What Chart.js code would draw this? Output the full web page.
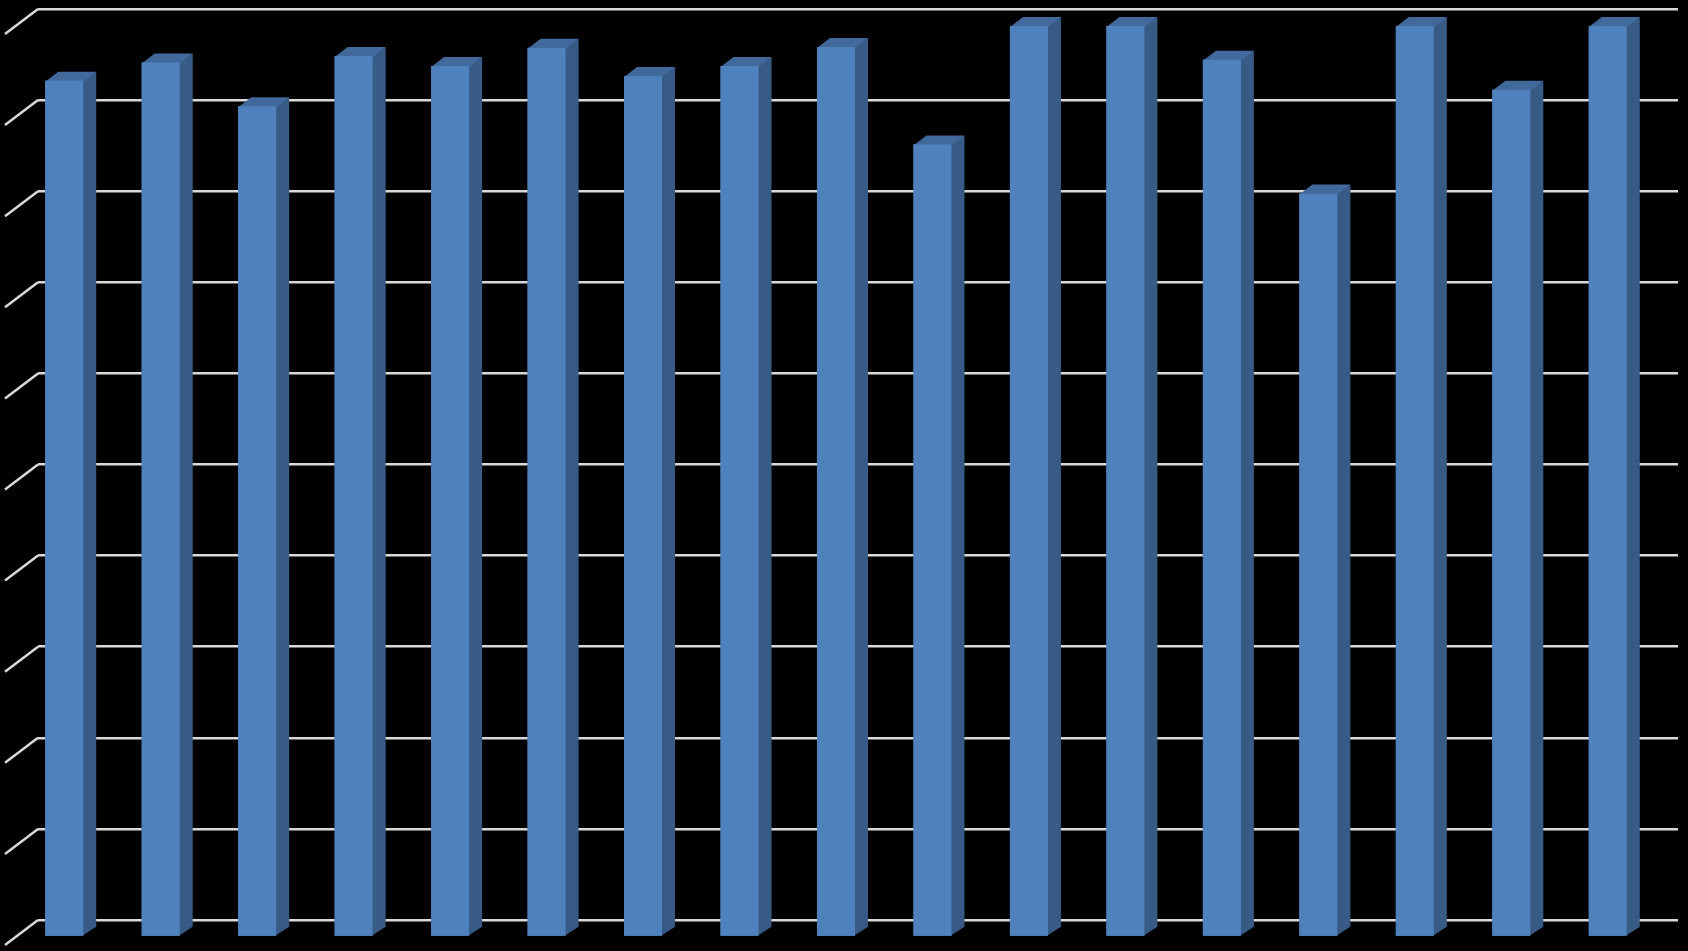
<!DOCTYPE html>
<html>
<head>
<meta charset="utf-8">
<script src="https://cdn.jsdelivr.net/npm/chart.js@4.4.0/dist/chart.umd.min.js"></script>
<style>
    html, body { margin: 0; padding: 0; background: #000; }
    #wrap { width: 1688px; height: 951px; position: relative; }
</style>
</head>
<body>
<div id="wrap"><canvas id="barChart"></canvas></div>
<script>
// categories (no labels visible on the picture)
const categories = ['1', '2', '3', '4', '5', '6', '7', '8', '9', '10', '11', '12', '13', '14', '15', '16', '17'];
// values, percent
const values = [94.0, 96.0, 91.2, 96.7, 95.6, 97.6, 94.5, 95.6, 97.7, 87.0, 100, 100, 96.3, 81.6, 100, 93.0, 100];
// value axis ticks
const yMin = 0;
const yMax = 100;
const yStep = 10;

// 3D look: bars stand in front of the back wall
var frontShift = { x: -22, y: 17 };  // bar front plane vs back wall
var barDepth = { x: 13, y: -9 };     // depth of a bar
var wallDepth = { x: -33, y: 25 };   // left wall / floor depth

var pseudo3d = {
    id: 'pseudo3d',
    beforeDraw: function(chart) {
        var c = chart.ctx;
        c.save();
        c.fillStyle = '#000';
        c.fillRect(0, 0, chart.width, chart.height);
        c.restore();
    },
    beforeDatasetsDraw: function(chart) {
        var c = chart.ctx;
        var y = chart.scales.y;
        var left = chart.chartArea.left;
        // slanted lines on the side wall
        c.save();
        c.strokeStyle = '#d9d9d9';
        c.lineWidth = 2.5;
        y.ticks.forEach(function(t) {
            var py = y.getPixelForValue(t.value);
            c.beginPath();
            c.moveTo(left, py);
            c.lineTo(left + wallDepth.x, py + wallDepth.y);
            c.stroke();
        });
        c.restore();
        // move bars forward
        c.save();
        c.translate(frontShift.x, frontShift.y);
    },
    afterDatasetsDraw: function(chart) {
        var c = chart.ctx;
        var meta = chart.getDatasetMeta(0);
        meta.data.forEach(function(bar) {
            var p = bar.getProps(['x', 'y', 'base', 'width'], true);
            var l = p.x - p.width / 2;
            var r = p.x + p.width / 2;
            // side face (overlaps the front by 1px so no seam shows)
            c.fillStyle = '#385b86';
            c.beginPath();
            c.moveTo(r - 1, p.y);
            c.lineTo(r + barDepth.x, p.y + barDepth.y);
            c.lineTo(r + barDepth.x, p.base + barDepth.y);
            c.lineTo(r - 1, p.base);
            c.closePath();
            c.fill();
            // top face
            c.fillStyle = '#41699c';
            c.beginPath();
            c.moveTo(l, p.y + 1);
            c.lineTo(l + barDepth.x, p.y + barDepth.y);
            c.lineTo(r + barDepth.x, p.y + barDepth.y);
            c.lineTo(r, p.y + 1);
            c.closePath();
            c.fill();
            // redraw front face on top of the overlaps
            c.fillStyle = '#4f81bd';
            c.fillRect(l, p.y, r - l, p.base - p.y);
        });
        c.restore();
    }
};

var ctx = document.getElementById('barChart').getContext('2d');

var barChart = new Chart(ctx, {
    type: 'bar',
    data: {
        labels: categories,
        datasets: [{
            data: values,
            backgroundColor: '#4f81bd',
            borderWidth: 0,
            categoryPercentage: 1.0,
            barPercentage: 0.394,
            clip: false
        }]
    },
    options: {
        responsive: true,
        maintainAspectRatio: false,
        animation: false,
        layout: {
            padding: { left: 38, top: 9, right: 10, bottom: 31 }
        },
        plugins: {
            legend: { display: false },
            tooltip: { enabled: false }
        },
        scales: {
            x: {
                display: false
            },
            y: {
                min: yMin,
                max: yMax,
                ticks: { stepSize: yStep, display: false },
                border: { display: false },
                grid: {
                    color: '#d9d9d9',
                    lineWidth: 2.5,
                    drawTicks: false
                },
                afterFit: function(scale) { scale.width = 0; }
            }
        }
    },
    plugins: [pseudo3d]
});
</script>
</body>
</html>
